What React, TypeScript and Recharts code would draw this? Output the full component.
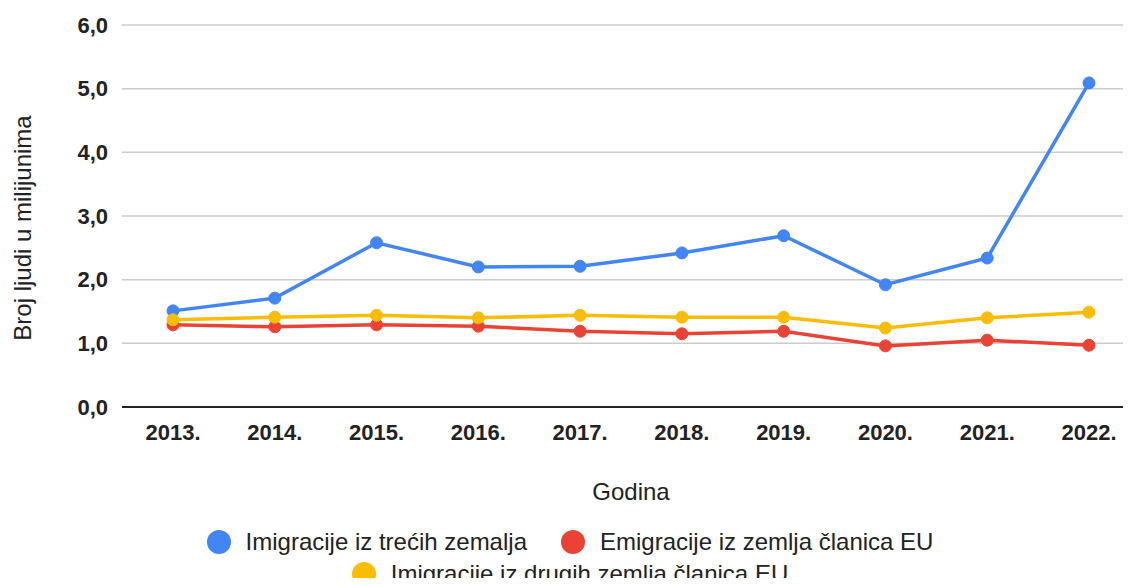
import { LineChart, Line, XAxis, YAxis, CartesianGrid, Legend } from 'recharts'

const years = ['2013.', '2014.', '2015.', '2016.', '2017.', '2018.', '2019.', '2020.', '2021.', '2022.']
const thirdCountries = [1.51, 1.71, 2.58, 2.2, 2.21, 2.42, 2.69, 1.92, 2.34, 5.09]
const emigrationEu = [1.29, 1.26, 1.29, 1.27, 1.19, 1.15, 1.19, 0.96, 1.05, 0.97]
const otherEu = [1.37, 1.41, 1.44, 1.4, 1.44, 1.41, 1.41, 1.24, 1.4, 1.49]
const yTicks = [0, 1, 2, 3, 4, 5, 6]
const seriesNames = [
  'Imigracije iz trećih zemalja',
  'Emigracije iz zemlja članica EU',
  'Imigracije iz drugih zemlja članica EU',
]

const data = years.map((year, i) => ({
  year,
  third: thirdCountries[i],
  emig: emigrationEu[i],
  other: otherEu[i],
}))

const font = 'Arial, "Liberation Sans", sans-serif'

function LegendBox(props: any) {
  const items = [...(props.payload || [])].sort(
    (a: any, b: any) => seriesNames.indexOf(a.value) - seriesNames.indexOf(b.value)
  )
  return (
    <div
      style={{
        height: 79,
        width: 800,
        margin: '0 auto',
        paddingTop: 19,
        boxSizing: 'border-box',
        display: 'flex',
        flexWrap: 'wrap',
        justifyContent: 'center',
        fontFamily: font,
        fontSize: 24,
        color: '#222',
        lineHeight: '32px',
      }}
    >
      {items.map((it: any) => (
        <div key={it.value} style={{ display: 'flex', alignItems: 'center', margin: '0 17px' }}>
          <span
            style={{
              display: 'inline-block',
              width: 24,
              height: 24,
              borderRadius: '50%',
              background: it.color,
              marginRight: 15,
            }}
          />
          <span>{it.value}</span>
        </div>
      ))}
    </div>
  )
}

export default function App() {
  return (
    <div style={{ margin: -8, width: 1131, height: 586, overflow: 'hidden', background: '#fff' }}>
      <LineChart width={1150} height={586} data={data} margin={{ top: 25, right: 10, left: 0, bottom: 0 }}>
        <CartesianGrid vertical={false} stroke="#cccccc" strokeWidth={1.5} />
        <XAxis
          dataKey="year"
          padding={{ left: 51, right: 51 }}
          tickLine={false}
          tickSize={0}
          tickMargin={17}
          axisLine={{ stroke: '#222', strokeWidth: 2 }}
          height={100}
          tick={{ fill: '#222', fontSize: 22, fontWeight: 'bold', fontFamily: font }}
          label={{ value: 'Godina', position: 'insideBottom', offset: 7, fill: '#222', fontSize: 24, fontFamily: font }}
        />
        <YAxis
          domain={[0, 6]}
          ticks={yTicks}
          width={122}
          axisLine={false}
          tickLine={false}
          tickSize={0}
          tickMargin={14}
          tickFormatter={(v: number) => v.toFixed(1).replace('.', ',')}
          tick={{ fill: '#222', fontSize: 22, fontWeight: 'bold', fontFamily: font }}
          label={{
            value: 'Broj ljudi u milijunima',
            angle: -90,
            position: 'insideLeft',
            offset: 22,
            dy: 12,
            style: { textAnchor: 'middle' },
            fill: '#222',
            fontSize: 24,
            fontFamily: font,
          }}
        />
        <Legend verticalAlign="bottom" content={<LegendBox />} />
        <Line
          dataKey="third"
          name={seriesNames[0]}
          stroke="#4285F4"
          strokeWidth={3.5}
          dot={{ r: 6, fill: '#4285F4', stroke: '#4285F4', strokeWidth: 1 }}
          isAnimationActive={false}
        />
        <Line
          dataKey="emig"
          name={seriesNames[1]}
          stroke="#EA4335"
          strokeWidth={3.5}
          dot={{ r: 6, fill: '#EA4335', stroke: '#EA4335', strokeWidth: 1 }}
          isAnimationActive={false}
        />
        <Line
          dataKey="other"
          name={seriesNames[2]}
          stroke="#FBBC04"
          strokeWidth={3.5}
          dot={{ r: 6, fill: '#FBBC04', stroke: '#FBBC04', strokeWidth: 1 }}
          isAnimationActive={false}
        />
      </LineChart>
    </div>
  )
}
